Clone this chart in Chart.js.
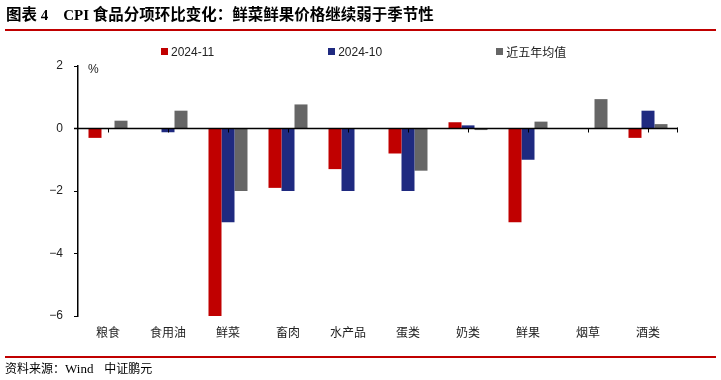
<!DOCTYPE html>
<html>
<head>
<meta charset="utf-8">
<script src="https://cdn.jsdelivr.net/npm/chart.js@4/dist/chart.umd.min.js"></script>
<style>
  html, body { margin: 0; padding: 0; background: #fff; }
  #wrap { position: relative; width: 721px; height: 380px; overflow: hidden; }
  #chartBox { position: absolute; left: 0; top: 0; width: 721px; height: 380px; }
  #title { position: absolute; left: 6px; top: 2px; font: bold 15px "Liberation Serif", "Noto Sans CJK SC", serif; color: #000; white-space: pre; }
  #title .cjk { font-family: "Noto Sans CJK SC", sans-serif; font-weight: bold; font-size: 15.5px; }
  .rule { position: absolute; left: 5px; width: 711px; height: 2px; background: #C00000; }
  #footer { position: absolute; left: 5px; top: 359px; font: 12px "Noto Sans CJK SC", sans-serif; color: #000; white-space: pre; }
  #footer .lat { font-family: "Liberation Serif", serif; font-size: 13px; }
  #legend { position: absolute; left: 161px; top: 43px; display: flex; gap: 114px; font: 12px "Liberation Sans", "Noto Sans CJK SC", sans-serif; color: #222; }
  #legend .item { display: flex; align-items: center; }
  #legend .box { width: 7px; height: 7px; margin-right: 3px; }
</style>
</head>
<body>
<div id="wrap">
  <div id="chartBox"><canvas id="c" width="721" height="380"></canvas></div>
  <div id="title"><span class="cjk">图表</span> 4    CPI <span class="cjk">食品分项环比变化：鲜菜鲜果价格继续弱于季节性</span></div>
  <div class="rule" style="top:29px"></div>
  <div id="legend"></div>
  <div class="rule" style="top:356px"></div>
  <div id="footer">资料来源：<span class="lat">Wind</span>    中证鹏元</div>
</div>
<script>
const categories = ["粮食", "食用油", "鲜菜", "畜肉", "水产品", "蛋类", "奶类", "鲜果", "烟草", "酒类"];
const seriesNames = ["2024-11", "2024-10", "近五年均值"];
const nov2024 = [-0.3, 0.0, -6.1, -1.9, -1.3, -0.8, 0.2, -3.0, 0.0, -0.3];
const oct2024 = [0.0, -0.12, -3.0, -2.0, -2.0, -2.0, 0.1, -1.0, 0.0, 0.57];
const fiveYearAvg = [0.25, 0.57, -2.0, 0.77, 0.0, -1.35, -0.05, 0.22, 0.94, 0.14];
const yTicks = [-6, -4, -2, 0, 2];
const colors = ["#C00000", "#1F2A80", "#666666"];

const seriesValues = [nov2024, oct2024, fiveYearAvg];
const datasets = seriesNames.map((name, i) => ({
  label: name,
  data: seriesValues[i],
  backgroundColor: colors[i],
  borderWidth: 0,
  categoryPercentage: 0.65,
  barPercentage: 1.0
}));

// HTML legend built from datasets
const legendEl = document.getElementById('legend');
datasets.forEach(ds => {
  const item = document.createElement('div');
  item.className = 'item';
  const b = document.createElement('span');
  b.className = 'box';
  b.style.background = ds.backgroundColor;
  const t = document.createElement('span');
  t.textContent = ds.label;
  item.appendChild(b); item.appendChild(t);
  legendEl.appendChild(item);
});

const axisDecor = {
  id: 'axisDecor',
  afterDatasetsDraw(chart) {
    const { ctx, scales: { x, y }, chartArea } = chart;
    const y0 = y.getPixelForValue(0);
    ctx.save();
    ctx.strokeStyle = '#000';
    ctx.lineWidth = 1.5;
    ctx.beginPath();
    ctx.moveTo(chartArea.left - 4, y0);
    ctx.lineTo(chartArea.right, y0);
    ctx.stroke();
    ctx.lineWidth = 1;
    ctx.beginPath();
    for (let i = 0; i < categories.length; i++) {
      const px = Math.round(x.getPixelForTick(i)) + 0.5;
      ctx.moveTo(px, y0);
      ctx.lineTo(px, y0 + 4);
    }
    const pr = Math.round(chartArea.right) - 0.5;
    ctx.moveTo(pr, y0 - 1);
    ctx.lineTo(pr, y0 + 4);
    ctx.stroke();
    ctx.fillStyle = '#222';
    ctx.font = '12px "Liberation Sans", sans-serif';
    ctx.textBaseline = 'middle';
    ctx.fillText('%', chartArea.left + 10, chartArea.top + 4);
    ctx.restore();
  }
};

new Chart(document.getElementById('c'), {
  type: 'bar',
  data: { labels: categories, datasets },
  options: {
    responsive: false,
    animation: false,
    devicePixelRatio: 1,
    layout: { padding: { top: 66, left: 0, right: 43, bottom: 40 } },
    plugins: { legend: { display: false }, tooltip: { enabled: false } },
    scales: {
      x: {
        grid: { display: false, drawTicks: false },
        border: { display: false },
        ticks: { color: '#222', font: { size: 12, family: '"Noto Sans CJK SC", sans-serif' }, padding: 9, maxRotation: 0 },
        afterFit: s => { s.height = 24; }
      },
      y: {
        min: -6, max: 2,
        afterBuildTicks: s => { s.ticks = yTicks.map(v => ({ value: v })); },
        grid: { drawOnChartArea: false, tickLength: 4, tickColor: '#000', lineWidth: 1 },
        border: { display: true, color: '#000', width: 1.5 },
        ticks: {
          color: '#222',
          font: { size: 12, family: '"Liberation Sans", sans-serif' },
          padding: 11,
          callback: v => (v < 0 ? '\u2212' + Math.abs(v) : String(v))
        },
        afterFit: s => { s.width = 78; }
      }
    }
  },
  plugins: [axisDecor]
});
</script>
</body>
</html>
